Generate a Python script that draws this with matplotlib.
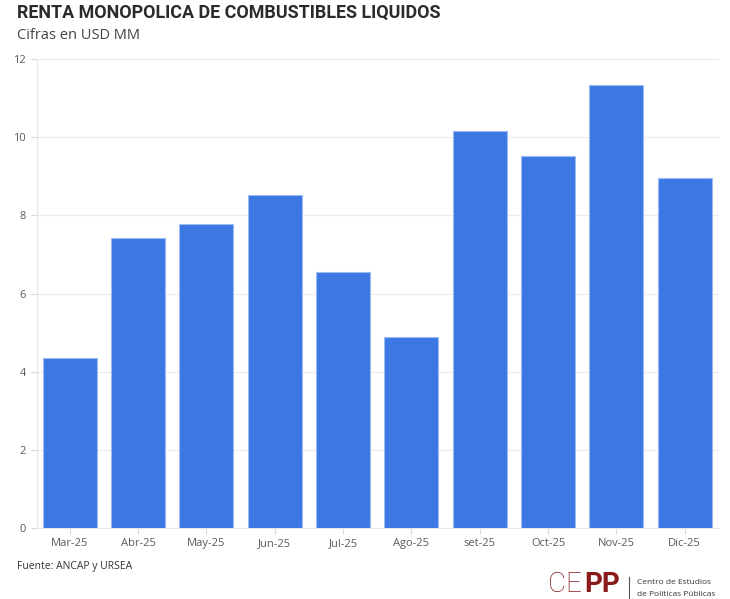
import numpy as np
import matplotlib.pyplot as plt

meses = ['Mar-25', 'Abr-25', 'May-25', 'Jun-25', 'Jul-25', 'Ago-25',
         'set-25', 'Oct-25', 'Nov-25', 'Dic-25']
renta = [4.36, 7.42, 7.79, 8.52, 6.55, 4.88, 10.16, 9.53, 11.33, 8.96]
yticks = [0, 2, 4, 6, 8, 10, 12]

plt.rcParams['font.family'] = ['Open Sans', 'DejaVu Sans']

fig = plt.figure(figsize=(7.3, 5.99), dpi=100)
ax = fig.add_axes([0.0507, 0.1185, 0.934, 0.783])

x = np.arange(len(meses))
ax.bar(x, renta, width=0.79, color='#3b78e4', edgecolor='#9dbaf2',
       linewidth=0.8, zorder=3)

ax.set_xlim(-0.48, len(meses) - 0.5)
ax.set_ylim(0, 12)
ax.set_yticks(yticks)
ax.set_yticklabels([str(t) for t in yticks])
ax.set_xticks(x)
ax.set_xticklabels(meses)

ax.grid(axis='y', color='#ececec', linewidth=0.8, zorder=0)
for s in ['top', 'right']:
    ax.spines[s].set_visible(False)
ax.spines['left'].set_color('#e8e8e8')
ax.spines['bottom'].set_color('#e8e8e8')
ax.tick_params(axis='both', colors='#d8d8d8', labelcolor='#5a5a5a',
               labelsize=8, length=4, width=0.8)
ax.tick_params(axis='y', pad=4)

fig.text(0.023, 0.993, 'RENTA MONOPOLICA DE COMBUSTIBLES LIQUIDOS',
         fontsize=12.9, fontweight='bold', color='#2b2b2b', va='top',
         family=['Roboto', 'DejaVu Sans'])
fig.text(0.023, 0.953, 'Cifras en USD MM', fontsize=10.5, color='#444444',
         va='top')
fig.text(0.023, 0.055, 'Fuente: ANCAP y URSEA', fontsize=7.5,
         color='#333333', va='center')

# logo
red = '#8b1a1a'
fig.text(0.750, 0.002, 'CE', fontsize=20, color=red, va='bottom',
         family=['Roboto', 'DejaVu Sans'], fontweight='light')
fig.text(0.801, 0.002, 'PP', fontsize=20, color=red, va='bottom',
         family=['Roboto', 'DejaVu Sans'], fontweight='bold')
fig.add_artist(plt.Line2D([0.862, 0.862], [0.0, 0.036], color='#555555',
                          linewidth=0.8, transform=fig.transFigure))
fig.text(0.873, 0.027, 'Centro de Estudios', fontsize=6, color='#333333',
         va='center')
fig.text(0.873, 0.008, 'de Políticas Públicas', fontsize=6, color='#333333',
         va='center')

fig.savefig('out.png', dpi=100, facecolor='white')
